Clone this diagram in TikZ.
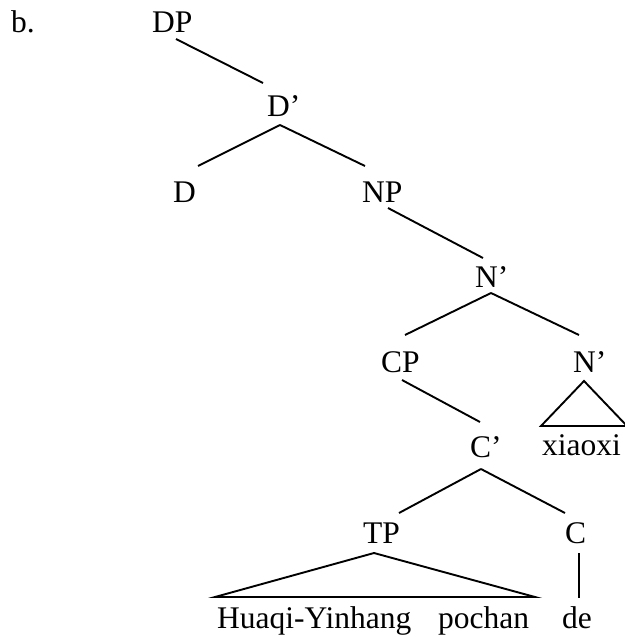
\documentclass[tikz,border=0pt]{standalone}
\usepackage{fontspec}
\setmainfont{Liberation Serif}
\begin{document}
\begin{tikzpicture}[x=1pt,y=-1pt]
\tikzset{
  lbl/.style={anchor=base west, inner sep=0pt, font=\fontsize{31.5}{36}\selectfont},
  br/.style={line width=1.9pt}
}
\useasboundingbox (0,0) rectangle (624,637);
% labels
\node[lbl] (ex)  at (11,32)  {b.};
\node[lbl] (DP)  at (152,32) {DP};
\node[lbl] (Db)  at (267,116) {D’};
\node[lbl] (D)   at (173,202) {D};
\node[lbl] (NP)  at (362,202) {NP};
\node[lbl] (Nb)  at (475,287) {N’};
\node[lbl] (CP)  at (381,372) {CP};
\node[lbl] (Nb2) at (573,372) {N’};
\node[lbl] (xiaoxi) at (542,455) {xiaoxi};
\node[lbl] (Cb)  at (470,457) {C’};
\node[lbl] (TP)  at (363,543) {TP};
\node[lbl] (C)   at (565,543) {C};
\node[lbl] (huaqi)  at (217,628) {Huaqi-Yinhang};
\node[lbl] (pochan) at (438,628) {pochan};
\node[lbl] (de)     at (562,628) {de};
% attachment points
\coordinate (DP-b) at (176,39);
\coordinate (Db-t) at (263,83);
\coordinate (Db-b) at (280,125);
\coordinate (D-t)  at (198,166);
\coordinate (NP-t) at (365,166);
\coordinate (NP-b) at (388,208);
\coordinate (Nb-t) at (483,258);
\coordinate (Nb-b) at (491,293);
\coordinate (CP-t) at (405,335);
\coordinate (Nb2-t) at (579,335);
\coordinate (CP-b) at (402,380);
\coordinate (Cb-t) at (480,422);
\coordinate (Nb2-b) at (584,381);
\coordinate (xl) at (541,426);
\coordinate (xr) at (627,426);
\coordinate (Cb-b) at (481,469);
\coordinate (TP-t) at (399,513);
\coordinate (C-t)  at (565,513);
\coordinate (TP-b) at (374,553);
\coordinate (tl) at (215,597);
\coordinate (tr) at (535,597);
\coordinate (C-b)  at (579,553);
\coordinate (de-t) at (579,598);
% branches
\draw[br] (DP-b) -- (Db-t);
\draw[br] (Db-b) -- (D-t);
\draw[br] (Db-b) -- (NP-t);
\draw[br] (NP-b) -- (Nb-t);
\draw[br] (Nb-b) -- (CP-t);
\draw[br] (Nb-b) -- (Nb2-t);
\draw[br] (CP-b) -- (Cb-t);
\draw[br] (Nb2-b) -- (xl) -- (xr) -- cycle;
\draw[br] (Cb-b) -- (TP-t);
\draw[br] (Cb-b) -- (C-t);
\draw[br] (TP-b) -- (tl) -- (tr) -- cycle;
\draw[br] (C-b) -- (de-t);
\end{tikzpicture}
\end{document}
